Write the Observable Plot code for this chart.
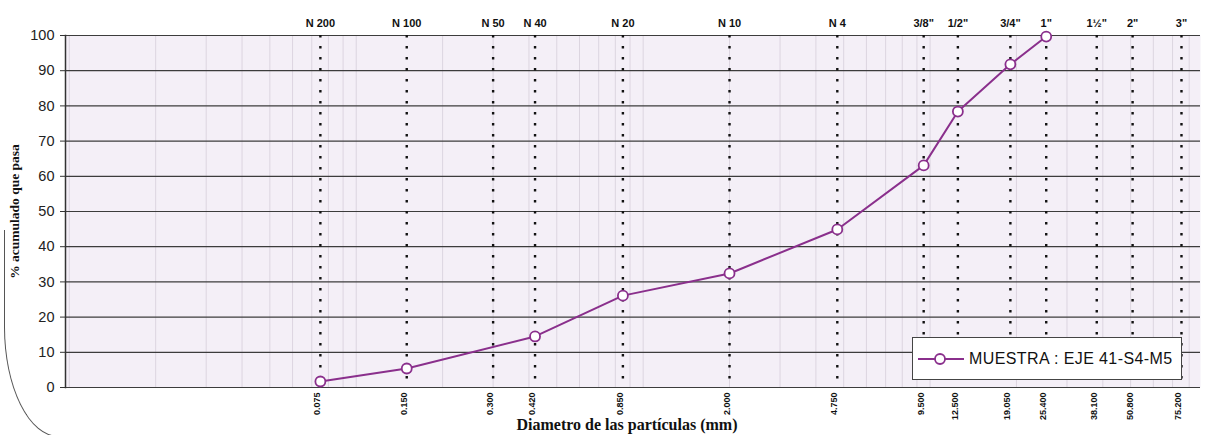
<!DOCTYPE html>
<html><head><meta charset="utf-8">
<script src="https://cdn.jsdelivr.net/npm/d3@7"></script>
<script src="https://cdn.jsdelivr.net/npm/@observablehq/plot@0.6"></script>
<style>
html,body{margin:0;padding:0;background:#fff;overflow:hidden;}
#wrap{position:relative;width:1211px;height:435px;overflow:hidden;}
#wrap svg{display:block;}
#corner{position:absolute;left:4px;top:230px;width:140px;height:206px;border-left:1.5px solid #555;border-bottom:1.5px solid #555;border-bottom-left-radius:55px 110px;pointer-events:none;}
#legend{position:absolute;left:912px;top:337px;width:270px;height:43px;background:#fff;border:1px solid #444;box-sizing:border-box;display:flex;align-items:center;font-family:"Liberation Sans",Arial,sans-serif;font-size:16px;letter-spacing:0.4px;color:#111;}
#legend svg{margin-left:5px;margin-right:5px;}
</style></head><body>
<div id="wrap"><div id="corner"></div></div>
<script>
const sieveSizes = [0.075, 0.150, 0.300, 0.420, 0.850, 2.000, 4.750, 9.500, 12.500, 19.050, 25.400, 38.100, 50.800, 75.200];
const sieveNames = ["N 200", "N 100", "N 50", "N 40", "N 20", "N 10", "N 4", "3/8\"", "1/2\"", "3/4\"", "1\"", "1\u00BD\"", "2\"", "3\""];
const sizeLabels = ["0.075", "0.150", "0.300", "0.420", "0.850", "2.000", "4.750", "9.500", "12.500", "19.050", "25.400", "38.100", "50.800", "75.200"];
const sampleSizes = [0.075, 0.150, 0.420, 0.850, 2.000, 4.750, 9.500, 12.500, 19.050, 25.400];
const samplePassing = [1.7, 5.4, 14.5, 26.1, 32.4, 44.9, 63.1, 78.4, 91.8, 99.7];
const yTicks = [0, 10, 20, 30, 40, 50, 60, 70, 80, 90, 100];
const seriesName = "MUESTRA : EJE 41-S4-M5";
const yLabel = "% acumulado que pasa";
const xLabel = "Diametro de las partículas (mm)";

const purple = "#8a2f8c";
const xDomain = [0.0097, 87.6];
const minorGrid = [];
for (const dec of [0.01, 0.1, 1, 10]) for (let m = 1; m <= 9; m++) { const v = dec * m; if (v > xDomain[0] && v < xDomain[1]) minorGrid.push(v); }

const sample = sampleSizes.map((d, i) => ({size: d, pass: samplePassing[i]}));
const sieves = sieveSizes.map((d, i) => ({size: d, name: sieveNames[i], label: sizeLabels[i]}));

const chart = Plot.plot({
  width: 1211, height: 435,
  marginLeft: 65, marginRight: 11, marginTop: 35, marginBottom: 48,
  style: {fontFamily: "'Liberation Sans', Arial, sans-serif", color: "#222", background: "transparent"},
  x: {type: "log", domain: xDomain, axis: null},
  y: {domain: [0, 100]},
  marks: [
    Plot.frame({fill: "#f4eff7", stroke: null}),
    Plot.ruleX(minorGrid, {stroke: "#dcd5e0", strokeWidth: 1}),
    Plot.ruleY(yTicks, {stroke: "#3c3c3c", strokeWidth: 1.2}),
    Plot.ruleX(sieves, {x: "size", stroke: "#111", strokeWidth: 2.4, strokeDasharray: "2.5,8.5"}),
    Plot.frame({anchor: "left", stroke: "#333", strokeWidth: 1.5}),
    Plot.axisY({ticks: yTicks, tickSize: 5, tickPadding: 6, fontSize: 14.5, label: null, stroke: "#333"}),
    Plot.text(sieves, {x: "size", text: "name", frameAnchor: "top", dy: -16, fontSize: 11, fontWeight: "bold", fill: "#111"}),
    Plot.text(sieves, {x: "size", text: "label", frameAnchor: "bottom", rotate: -90, textAnchor: "end", dy: 5, fontSize: 9, fontWeight: "bold", fill: "#111"}),
    Plot.line(sample, {x: "size", y: "pass", stroke: purple, strokeWidth: 2}),
    Plot.dot(sample, {x: "size", y: "pass", r: 5, fill: "#fff", stroke: purple, strokeWidth: 1.8}),
    Plot.text([yLabel], {frameAnchor: "left", textAnchor: "middle", dx: -51, rotate: -90, fontSize: 13.5, fontWeight: "bold", fontFamily: "'Liberation Serif', 'Times New Roman', serif", fill: "#111"}),
    Plot.text([xLabel], {frameAnchor: "bottom", dx: -6, dy: 42, fontSize: 16, fontWeight: "bold", fontFamily: "'Liberation Serif', 'Times New Roman', serif", fill: "#111"})
  ]
});
const wrap = document.getElementById("wrap");
wrap.insertBefore(chart, wrap.firstChild);

const legend = document.createElement("div");
legend.id = "legend";
legend.innerHTML = `<svg width="46" height="14"><line x1="0" y1="7" x2="46" y2="7" stroke="${purple}" stroke-width="2"/><circle cx="22" cy="7" r="5" fill="#fff" stroke="${purple}" stroke-width="1.8"/></svg><span>${seriesName}</span>`;
wrap.appendChild(legend);
</script>
</body></html>
